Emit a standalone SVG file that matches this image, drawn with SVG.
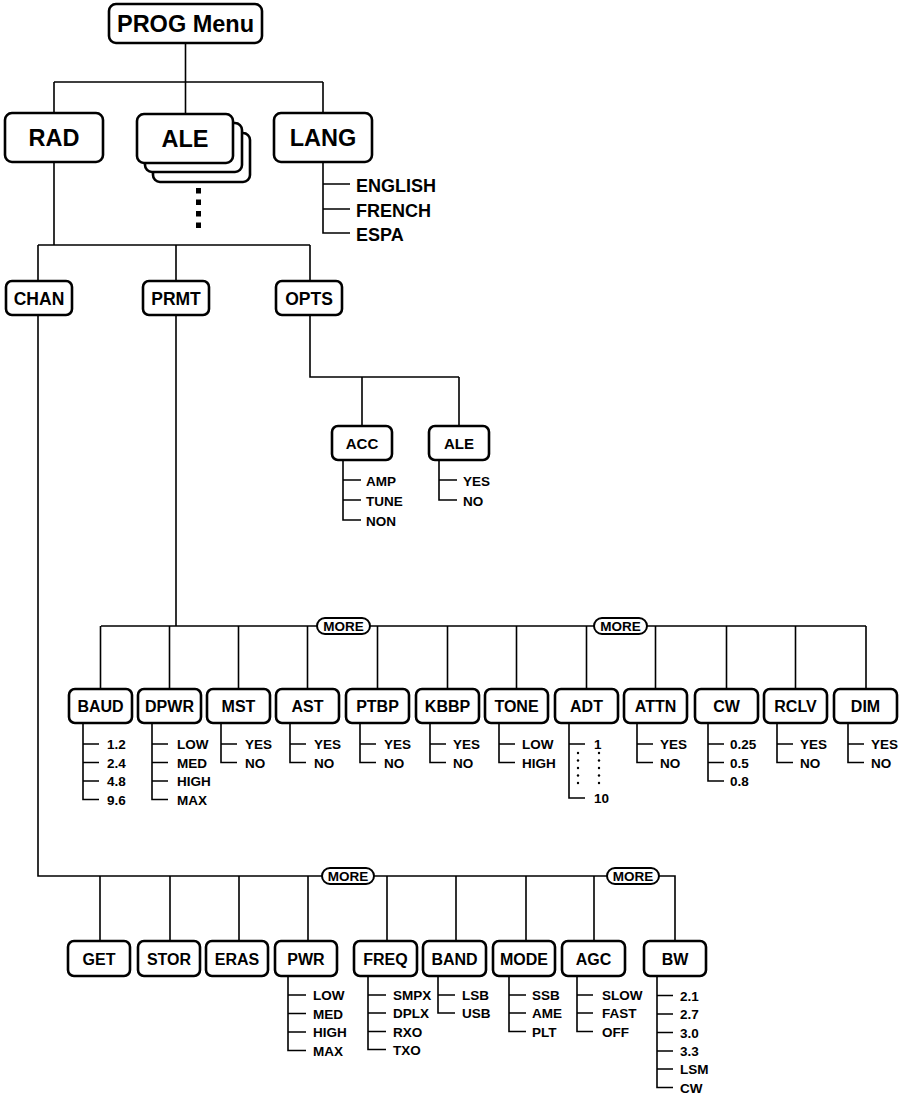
<svg xmlns="http://www.w3.org/2000/svg" width="908" height="1094" viewBox="0 0 908 1094">
<style>
.bx{fill:#fff;stroke:#000;stroke-width:2.6}
.pill{fill:#fff;stroke:#000;stroke-width:2}
.ln{fill:none;stroke:#000;stroke-width:1.6}
text{font-family:"Liberation Sans",Arial,Helvetica,sans-serif;font-weight:bold;fill:#000}
.t1{font-size:23.5px;text-anchor:middle}
.t2{font-size:17.5px;text-anchor:middle}
.t3{font-size:15px;text-anchor:middle}
.t4{font-size:16px;text-anchor:middle}
.mo{font-size:13.5px;text-anchor:middle}
.lg{font-size:18px}
.s{font-size:13.5px}
</style>
<rect width="908" height="1094" fill="#fff"/>
<g id="connectors">
<path class="ln" d="M185.5,43V82M54,82H323M54,82V113M185.5,82V114M323,82V113"/>
<path class="ln" d="M323,162V233H350M323,184H350M323,209H350"/>
<path class="ln" d="M54,162V245M38,245H310M38,245V281M176,245V281M310,245V281"/>
<path class="ln" d="M310,315V377H459M362,377V426M459,377V426"/>
<path class="ln" d="M343,460V520H361M343,480H361M343,500H361"/>
<path class="ln" d="M439,460V500H457M439,480H457"/>
<path class="ln" d="M176,315V626M101,626H866"/>
<path class="ln" d="M100.5,626V689M169.5,626V689M238.5,626V689M307.5,626V689M377.5,626V689M447.5,626V689M516.5,626V689M586.5,626V689M655.5,626V689M726.5,626V689M795.5,626V689M866,626V689"/>
<path class="ln" d="M38,315V876H675V941"/>
<path class="ln" d="M100,876V941M170,876V941M239,876V941M308,876V941M387,876V941M456,876V941M526,876V941M594,876V941"/>
</g>
<g id="more1"><rect class="pill" x="317" y="618" width="53" height="16" rx="8"/><text class="mo" x="343.5" y="631">MORE</text></g>
<g id="more2"><rect class="pill" x="594" y="618" width="53" height="16" rx="8"/><text class="mo" x="620.5" y="631">MORE</text></g>
<g id="more3"><rect class="pill" x="322" y="868" width="52" height="16" rx="8"/><text class="mo" x="348" y="881">MORE</text></g>
<g id="more4"><rect class="pill" x="607" y="868" width="52" height="16" rx="8"/><text class="mo" x="633" y="881">MORE</text></g>

<g id="prog"><rect class="bx" x="109" y="4" width="153" height="39" rx="7"/><text class="t1" x="185.5" y="32">PROG Menu</text></g>
<g id="rad"><rect class="bx" x="5" y="113" width="98" height="49" rx="7"/><text class="t1" x="54" y="146">RAD</text></g>
<g id="ale"><rect class="bx" x="153" y="133" width="97" height="49" rx="7"/><rect class="bx" x="145" y="123" width="97" height="49" rx="7"/><rect class="bx" x="137" y="114" width="96" height="49" rx="7"/><text class="t1" x="185" y="147">ALE</text>
<rect x="196" y="188" width="5" height="5.5"/><rect x="196" y="199.5" width="5" height="5.5"/><rect x="196" y="211" width="5" height="5.5"/><rect x="196" y="222.5" width="5" height="5.5"/></g>
<g id="lang"><rect class="bx" x="274" y="113" width="98" height="49" rx="7"/><text class="t1" x="323" y="146">LANG</text>
<text class="lg" x="356" y="191.5">ENGLISH</text><text class="lg" x="356" y="216.5">FRENCH</text><text class="lg" x="356" y="240.5">ESPA</text></g>

<g id="chan"><rect class="bx" x="6" y="281" width="66" height="34" rx="6"/><text class="t2" x="39" y="304.5">CHAN</text></g>
<g id="prmt"><rect class="bx" x="143" y="281" width="66" height="34" rx="6"/><text class="t2" x="176" y="304.5">PRMT</text></g>
<g id="opts"><rect class="bx" x="276" y="281" width="66" height="34" rx="6"/><text class="t2" x="309" y="304.5">OPTS</text></g>

<g id="acc"><rect class="bx" x="332" y="426" width="60" height="34" rx="6"/><text class="t3" x="362" y="448.5">ACC</text>
<text class="s" x="366" y="485.5">AMP</text><text class="s" x="366" y="505.5">TUNE</text><text class="s" x="366" y="525.5">NON</text></g>
<g id="ale2"><rect class="bx" x="429" y="426" width="60" height="34" rx="6"/><text class="t3" x="459" y="448.5">ALE</text>
<text class="s" x="463" y="485.5">YES</text><text class="s" x="463" y="505.5">NO</text></g>

<g id="baud"><rect class="bx" x="69" y="689" width="63" height="34" rx="6"/><text class="t4" x="100.5" y="712">BAUD</text>
<path class="ln" d="M83,723V799.5H99M83,744H99M83,762.5H99M83,781H99"/>
<text class="s" x="107" y="749">1.2</text><text class="s" x="107" y="767.5">2.4</text><text class="s" x="107" y="786">4.8</text><text class="s" x="107" y="804.5">9.6</text></g>
<g id="dpwr"><rect class="bx" x="138" y="689" width="63" height="34" rx="6"/><text class="t4" x="169.5" y="712">DPWR</text>
<path class="ln" d="M152,723V799.5H168M152,744H168M152,762.5H168M152,781H168"/>
<text class="s" x="177" y="749">LOW</text><text class="s" x="177" y="767.5">MED</text><text class="s" x="177" y="786">HIGH</text><text class="s" x="177" y="804.5">MAX</text></g>
<g id="mst"><rect class="bx" x="207" y="689" width="63" height="34" rx="6"/><text class="t4" x="238.5" y="712">MST</text>
<path class="ln" d="M221,723V762.5H237M221,744H237"/>
<text class="s" x="245" y="749">YES</text><text class="s" x="245" y="767.5">NO</text></g>
<g id="ast"><rect class="bx" x="276" y="689" width="63" height="34" rx="6"/><text class="t4" x="307.5" y="712">AST</text>
<path class="ln" d="M290,723V762.5H306M290,744H306"/>
<text class="s" x="314" y="749">YES</text><text class="s" x="314" y="767.5">NO</text></g>
<g id="ptbp"><rect class="bx" x="346" y="689" width="63" height="34" rx="6"/><text class="t4" x="377.5" y="712">PTBP</text>
<path class="ln" d="M360,723V762.5H376M360,744H376"/>
<text class="s" x="384" y="749">YES</text><text class="s" x="384" y="767.5">NO</text></g>
<g id="kbbp"><rect class="bx" x="416" y="689" width="63" height="34" rx="6"/><text class="t4" x="447.5" y="712">KBBP</text>
<path class="ln" d="M430,723V762.5H446M430,744H446"/>
<text class="s" x="453" y="749">YES</text><text class="s" x="453" y="767.5">NO</text></g>
<g id="tone"><rect class="bx" x="485" y="689" width="63" height="34" rx="6"/><text class="t4" x="516.5" y="712">TONE</text>
<path class="ln" d="M499,723V762.5H515M499,744H515"/>
<text class="s" x="522" y="749">LOW</text><text class="s" x="522" y="767.5">HIGH</text></g>
<g id="adt"><rect class="bx" x="555" y="689" width="63" height="34" rx="6"/><text class="t4" x="586.5" y="712">ADT</text>
<path class="ln" d="M569,723V798H585M569,744H585"/>
<text class="s" x="594" y="748.5">1</text><text class="s" x="594" y="803">10</text>
<g fill="#000"><circle cx="578" cy="753" r="1.2"/><circle cx="578" cy="760.5" r="1.2"/><circle cx="578" cy="768" r="1.2"/><circle cx="578" cy="775.5" r="1.2"/><circle cx="578" cy="783" r="1.2"/>
<circle cx="599" cy="753" r="1.2"/><circle cx="599" cy="760.5" r="1.2"/><circle cx="599" cy="768" r="1.2"/><circle cx="599" cy="775.5" r="1.2"/><circle cx="599" cy="783" r="1.2"/></g></g>
<g id="attn"><rect class="bx" x="624" y="689" width="63" height="34" rx="6"/><text class="t4" x="655.5" y="712">ATTN</text>
<path class="ln" d="M637,723V762.5H653M637,744H653"/>
<text class="s" x="660" y="749">YES</text><text class="s" x="660" y="767.5">NO</text></g>
<g id="cw"><rect class="bx" x="695" y="689" width="63" height="34" rx="6"/><text class="t4" x="726.5" y="712">CW</text>
<path class="ln" d="M708,723V781H724M708,744H724M708,762.5H724"/>
<text class="s" x="730" y="749">0.25</text><text class="s" x="730" y="767.5">0.5</text><text class="s" x="730" y="786">0.8</text></g>
<g id="rclv"><rect class="bx" x="764" y="689" width="63" height="34" rx="6"/><text class="t4" x="795.5" y="712">RCLV</text>
<path class="ln" d="M777,723V762.5H793M777,744H793"/>
<text class="s" x="800" y="749">YES</text><text class="s" x="800" y="767.5">NO</text></g>
<g id="dim"><rect class="bx" x="834" y="689" width="63" height="34" rx="6"/><text class="t4" x="865.5" y="712">DIM</text>
<path class="ln" d="M848,723V762.5H864M848,744H864"/>
<text class="s" x="871" y="749">YES</text><text class="s" x="871" y="767.5">NO</text></g>

<g id="get"><rect class="bx" x="68" y="941" width="62" height="35" rx="6"/><text class="t4" x="99" y="964.5">GET</text></g>
<g id="stor"><rect class="bx" x="138" y="941" width="62" height="35" rx="6"/><text class="t4" x="169" y="964.5">STOR</text></g>
<g id="eras"><rect class="bx" x="206" y="941" width="62" height="35" rx="6"/><text class="t4" x="237" y="964.5">ERAS</text></g>
<g id="pwr"><rect class="bx" x="275" y="941" width="62" height="35" rx="6"/><text class="t4" x="306" y="964.5">PWR</text>
<path class="ln" d="M288,976V1050.5H306M288,995H306M288,1013.5H306M288,1032H306"/>
<text class="s" x="313" y="1000">LOW</text><text class="s" x="313" y="1018.5">MED</text><text class="s" x="313" y="1037">HIGH</text><text class="s" x="313" y="1055.5">MAX</text></g>
<g id="freq"><rect class="bx" x="354" y="941" width="63" height="35" rx="6"/><text class="t4" x="385.5" y="964.5">FREQ</text>
<path class="ln" d="M368,976V1049.5H386M368,995H386M368,1013H386M368,1031.5H386"/>
<text class="s" x="393" y="1000">SMPX</text><text class="s" x="393" y="1018">DPLX</text><text class="s" x="393" y="1036.5">RXO</text><text class="s" x="393" y="1054.5">TXO</text></g>
<g id="band"><rect class="bx" x="423" y="941" width="63" height="35" rx="6"/><text class="t4" x="454.5" y="964.5">BAND</text>
<path class="ln" d="M438,976V1013H455M438,995H455"/>
<text class="s" x="462" y="1000">LSB</text><text class="s" x="462" y="1018">USB</text></g>
<g id="mode"><rect class="bx" x="493" y="941" width="62" height="35" rx="6"/><text class="t4" x="524" y="964.5">MODE</text>
<path class="ln" d="M509,976V1031.5H526M509,995H526M509,1013H526"/>
<text class="s" x="532" y="1000">SSB</text><text class="s" x="532" y="1018">AME</text><text class="s" x="532" y="1036.5">PLT</text></g>
<g id="agc"><rect class="bx" x="562" y="941" width="63" height="35" rx="6"/><text class="t4" x="593.5" y="964.5">AGC</text>
<path class="ln" d="M577,976V1031.5H593M577,995H593M577,1013H593"/>
<text class="s" x="602" y="1000">SLOW</text><text class="s" x="602" y="1018">FAST</text><text class="s" x="602" y="1036.5">OFF</text></g>
<g id="bw"><rect class="bx" x="644" y="941" width="62" height="35" rx="6"/><text class="t4" x="675" y="964.5">BW</text>
<path class="ln" d="M657,976V1087.5H673M657,995.5H673M657,1014H673M657,1032.5H673M657,1051H673M657,1069H673"/>
<text class="s" x="680" y="1000.5">2.1</text><text class="s" x="680" y="1019">2.7</text><text class="s" x="680" y="1037.5">3.0</text><text class="s" x="680" y="1056">3.3</text><text class="s" x="680" y="1074">LSM</text><text class="s" x="680" y="1092.5">CW</text></g>
</svg>
